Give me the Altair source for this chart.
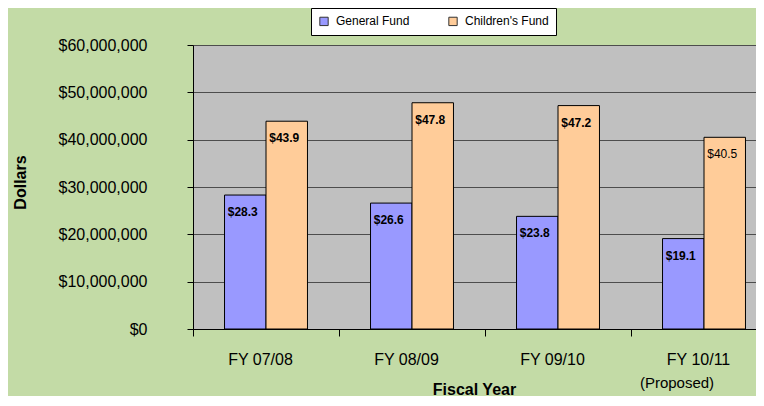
import altair as alt
import pandas as pd

categories = ["FY 07/08", "FY 08/09", "FY 09/10", "FY 10/11"]
series = ["General Fund", "Children's Fund"]
general_fund = [28.3, 26.6, 23.8, 19.1]      # millions of dollars
childrens_fund = [43.9, 47.8, 47.2, 40.5]    # millions of dollars
notes = ["", "", "", "(Proposed)"]
y_ticks = [0, 10000000, 20000000, 30000000, 40000000, 50000000, 60000000]
colors = ["#9999FF", "#FFCC99"]

rows = []
for c, g, k in zip(categories, general_fund, childrens_fund):
    rows.append({"cat": c, "series": series[0], "value": g * 1e6, "label": f"${g:.1f}"})
    rows.append({"cat": c, "series": series[1], "value": k * 1e6, "label": f"${k:.1f}"})
df = pd.DataFrame(rows)
notes_df = pd.DataFrame({"cat": categories, "note": notes})

FONT = "Liberation Sans"

x_enc = alt.X(
    "cat:N",
    sort=categories,
    scale=alt.Scale(range=[0, 584], paddingInner=0, paddingOuter=0),
    axis=alt.Axis(
        title="Fiscal Year",
        titleFont=FONT,
        titleFontSize=16,
        titleFontWeight="bold",
        titleColor="black",
        titleX=281,
        titleY=60,
        titleAlign="center",
        titleBaseline="middle",
        labelAngle=0,
        labelFont=FONT,
        labelFontSize=16,
        labelColor="black",
        labelOffset=-6,
        labelPadding=15,
        tickBand="extent",
        tickSize=7,
        tickColor="black",
        domainColor="black",
        grid=False,
    ),
)
x_off = alt.XOffset(
    "series:N",
    sort=series,
    scale=alt.Scale(paddingInner=0, paddingOuter=0.76),
)
y_enc = alt.Y(
    "value:Q",
    scale=alt.Scale(domain=[0, 60000000], nice=False),
    axis=alt.Axis(
        values=y_ticks,
        format="$,.0f",
        title="Dollars",
        titleFont=FONT,
        titleFontSize=16,
        titleFontWeight="bold",
        titleColor="black",
        titleX=-173,
        titleY=137,
        titleAlign="center",
        titleBaseline="middle",
        labelFont=FONT,
        labelFontSize=16,
        labelColor="black",
        labelPadding=40,
        tickSize=6,
        tickColor="black",
        domainColor="black",
        grid=True,
        gridColor="#4d4d4d",
        gridWidth=1.2,
    ),
)

base = alt.Chart(df)

bars = base.mark_bar(stroke="black", strokeWidth=1).encode(
    x=x_enc,
    xOffset=x_off,
    y=y_enc,
    color=alt.Color(
        "series:N",
        scale=alt.Scale(domain=series, range=colors),
        legend=alt.Legend(
            title=None,
            orient="none",
            legendX=118,
            legendY=-37,
            direction="horizontal",
            fillColor="white",
            strokeColor="black",
            padding=7,
            symbolType="square",
            symbolSize=70,
            symbolStrokeColor="#333333",
            symbolStrokeWidth=1,
            labelFont=FONT,
            labelFontSize=12,
            labelColor="black",
            labelOffset=6,
            columnPadding=26,
            gridAlign="all",
        ),
    ),
)

is_plain = "datum.cat == 'FY 10/11' && datum.series == \"Children's Fund\""

labels_bold = base.mark_text(
    align="left", baseline="middle", dx=-17.5, dy=17,
    font=FONT, fontSize=12, fontWeight="bold", color="black",
).encode(x=alt.X("cat:N", sort=categories), xOffset=alt.XOffset("series:N", sort=series),
         y="value:Q", text="label:N").transform_filter("!(" + is_plain + ")")

labels_plain = base.mark_text(
    align="left", baseline="middle", dx=-17.5, dy=17,
    font=FONT, fontSize=12, fontWeight="normal", color="black",
).encode(x=alt.X("cat:N", sort=categories), xOffset=alt.XOffset("series:N", sort=series),
         y="value:Q", text="label:N").transform_filter(is_plain)

note_text = alt.Chart(notes_df).mark_text(
    align="center", baseline="middle", dx=-27,
    font=FONT, fontSize=15, color="black",
).encode(x=alt.X("cat:N", sort=categories), y=alt.value(338), text="note:N")

chart = (
    alt.layer(bars, labels_bold, labels_plain, note_text)
    .properties(
        width=563,
        height=284,
        background="#C3DBA6",
        autosize=alt.AutoSizeParams(type="none"),
        padding={"left": 185, "top": 37, "right": 0, "bottom": 67},
    )
    .configure_view(fill="#C0C0C0", stroke=None)
)

chart.save("out.html", embed_options={"renderer": "svg", "actions": False})
